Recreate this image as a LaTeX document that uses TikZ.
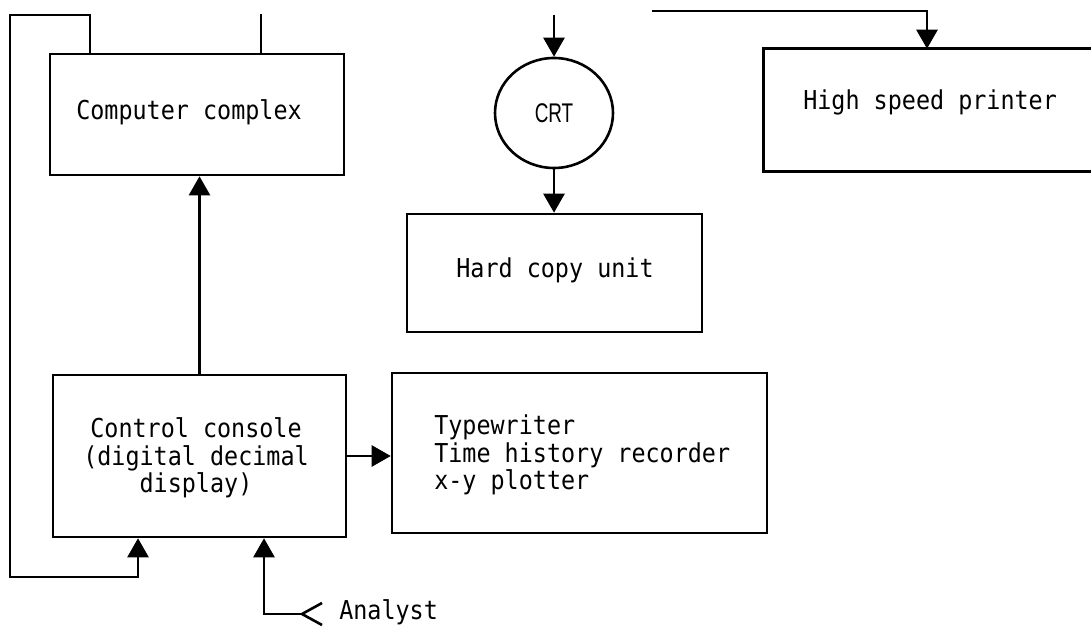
\documentclass[tikz,border=0pt]{standalone}
\usepackage{fontspec}
\usetikzlibrary{arrows.meta,shapes.geometric}
\newfontfamily\typefont[FakeStretch=0.9]{DejaVu Sans Mono}
\newfontfamily\labelfont[FakeStretch=0.7]{Liberation Sans}
\begin{document}
\begin{tikzpicture}[x=1pt,y=-1pt,
  line width=2.6pt,
  arr/.style={-{Triangle[length=19pt,width=21pt]}},
  unit/.style={draw,rectangle,inner sep=0pt},
  txt/.style={font=\typefont\fontsize{26}{27.5}\selectfont,inner sep=0pt}]
\useasboundingbox (0,0) rectangle (1091,628);

% units
\node[unit,minimum width=294pt,minimum height=121pt] (cc) at (197,114.5) {};
\node[txt] (cctext) at (189,112) {Computer complex};

\node[draw,ellipse,minimum width=118pt,minimum height=110pt,inner sep=0pt,
      font=\labelfont\fontsize{27}{28}\selectfont] (crt) at (554,113) {CRT};

\node[unit,minimum width=295pt,minimum height=118pt] (hcu) at (554.5,273) {};
\node[txt] (hcutext) at (555,270) {Hard copy unit};

% high speed printer runs past the right edge: left, top and bottom sides only
\node[rectangle,inner sep=0pt,minimum width=326pt,minimum height=120pt] (hsp) at (928,110) {};
\draw (hsp.north east) -- (hsp.north west) -- (hsp.south west) -- (hsp.south east);
\node[txt,anchor=west] (hsptext) at (802,102) {High speed printer};

\node[unit,minimum width=293pt,minimum height=162pt] (con) at (199.5,456) {};
\node[txt,align=center] (context) at (196,458) {Control console\\(digital decimal\\display)};

\node[unit,minimum width=375pt,minimum height=160pt] (tw) at (579.5,453) {};
\node[txt,align=left,anchor=west] (twtext) at (433,455) {Typewriter\\Time history recorder\\x-y plotter};

\node[txt,anchor=west] (analyst) at (338,612) {Analyst};

% connectors
\coordinate (loopa) at (90,15);
\coordinate (loopb) at (10,15);
\coordinate (loopc) at (10,577);
\coordinate (loopd) at (138,577);
\draw[arr] (loopa |- cc.north) -- (loopa) -- (loopb) -- (loopc) -- (loopd) -- (loopd |- con.south);

\coordinate (ccup) at (261,14);
\draw (ccup |- cc.north) -- (ccup);

\coordinate (crtin) at (554,15);
\draw[arr] (crtin) -- (crt.north);
\draw[arr] (crt.south) -- (crt.south |- hcu.north);

\coordinate (ptop) at (652,11);
\coordinate (pcorner) at (927,11);
\draw[arr] (ptop) -- (pcorner) -- (pcorner |- hsp.north);

\draw[arr] (con.north) -- (con.north |- cc.south);
\draw[arr] (con.east) -- (con.east -| tw.west);

\coordinate (atip) at (302,614);
\coordinate (acorner) at (264,614);
\draw[arr] (atip) -- (acorner) -- (acorner |- con.south);
\draw (atip) ++(20,-11) -- (atip) -- ++(20,11);
\end{tikzpicture}
\end{document}
